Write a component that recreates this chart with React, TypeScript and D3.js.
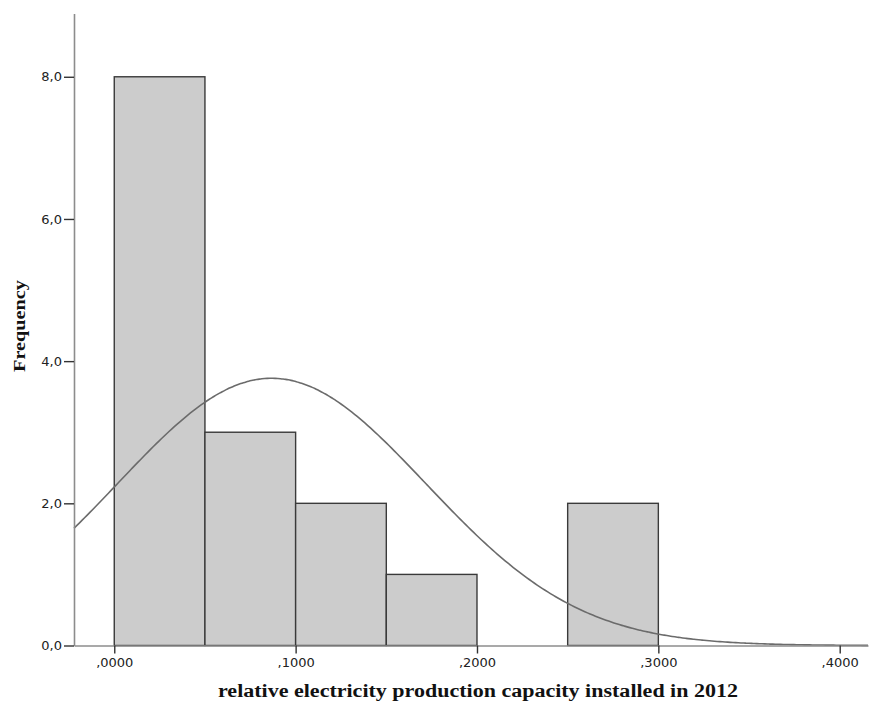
import { useEffect, useRef } from "react";
import * as d3 from "d3";

// histogram bins (width 0,05) and their counts
const binStarts = [0, 0.05, 0.1, 0.15, 0.2, 0.25];
const binCounts = [8, 3, 2, 1, 0, 2];
const binWidth = 0.05;

// normal curve parameters as estimated from the plot
const curveMean = 0.0868;
const curveSd = 0.0849;

const xTicks = [0, 0.1, 0.2, 0.3, 0.4];
const yTicks = [0, 2, 4, 6, 8];

const xTitle = "relative electricity production capacity installed in 2012";
const yTitle = "Frequency";

function App() {
  const node = useRef<SVGSVGElement>(null);

  useEffect(() => {
    const width = 870;
    const height = 708;
    const svg = d3.select(node.current);
    svg.selectAll("*").remove();
    svg.attr("width", width).attr("height", height);

    const xScale = d3.scaleLinear().domain([-0.0222, 0.4156]).range([74, 868]);
    const yScale = d3.scaleLinear().domain([0, 8.89]).range([645.5, 13.5]);

    const bars = binStarts
      .map((s, i) => ({ start: s, count: binCounts[i] }))
      .filter(d => d.count > 0);

    svg.append("g")
      .selectAll("rect")
      .data(bars)
      .enter()
      .append("rect")
      .attr("x", d => xScale(d.start))
      .attr("y", d => yScale(d.count))
      .attr("width", d => xScale(d.start + binWidth) - xScale(d.start))
      .attr("height", d => yScale(0) - yScale(d.count))
      .attr("fill", "#cccccc")
      .attr("stroke", "#3a3a3a")
      .attr("stroke-width", 1.4);

    // normal curve scaled to counts
    const n = d3.sum(binCounts);
    const density = (x: number) =>
      (n * binWidth) / (curveSd * Math.sqrt(2 * Math.PI)) *
      Math.exp(-0.5 * ((x - curveMean) / curveSd) ** 2);
    const [x0, x1] = xScale.domain();
    const pts = d3.range(0, 301).map(i => x0 + (x1 - x0) * i / 300);
    const line = d3.line<number>()
      .x(d => xScale(d))
      .y(d => yScale(density(d)))
      .curve(d3.curveBasis);

    svg.append("path")
      .datum(pts)
      .attr("d", line)
      .attr("fill", "none")
      .attr("stroke", "#6b6b6b")
      .attr("stroke-width", 1.6);

    const fmtY = (v: number) => d3.format(".1f")(v).replace(".", ",");
    const fmtX = (v: number) => d3.format(".4f")(v).replace(/^0/, "").replace(".", ",");

    const yAxis = svg.append("g")
      .attr("transform", `translate(${xScale.range()[0]},0)`)
      .call(d3.axisLeft(yScale).tickValues(yTicks).tickFormat(d => fmtY(d as number)).tickSize(10).tickSizeOuter(0));
    const xAxis = svg.append("g")
      .attr("transform", `translate(0,${yScale(0)})`)
      .call(d3.axisBottom(xScale).tickValues(xTicks).tickFormat(d => fmtX(d as number)).tickSize(8).tickSizeOuter(0));

    [yAxis, xAxis].forEach(ax => {
      ax.select(".domain").attr("stroke", "#8c8c8c").attr("stroke-width", 1.6);
      ax.selectAll(".tick line").attr("stroke", "#333").attr("stroke-width", 1.4);
      ax.selectAll(".tick text")
        .attr("fill", "#222")
        .style("font-family", "'DejaVu Sans', sans-serif")
        .style("font-size", "13px");
    });
    yAxis.selectAll(".tick text").attr("x", -12);
    xAxis.selectAll(".tick text").attr("y", 12);

    svg.append("text")
      .attr("x", 478)
      .attr("y", 697)
      .attr("text-anchor", "middle")
      .attr("textLength", 520)
      .attr("lengthAdjust", "spacingAndGlyphs")
      .style("font-family", "'Liberation Serif', serif")
      .style("font-weight", "bold")
      .style("font-size", "18px")
      .attr("fill", "#111")
      .text(xTitle);

    svg.append("text")
      .attr("transform", "translate(25,326) rotate(-90)")
      .attr("text-anchor", "middle")
      .attr("textLength", 92)
      .attr("lengthAdjust", "spacingAndGlyphs")
      .style("font-family", "'Liberation Serif', serif")
      .style("font-weight", "bold")
      .style("font-size", "17px")
      .attr("fill", "#111")
      .text(yTitle);
  }, []);

  return (
    <div style={{ position: "absolute", left: 0, top: 0 }}>
      <svg ref={node} style={{ display: "block", background: "#fff" }}></svg>
    </div>
  );
}

export default App;
